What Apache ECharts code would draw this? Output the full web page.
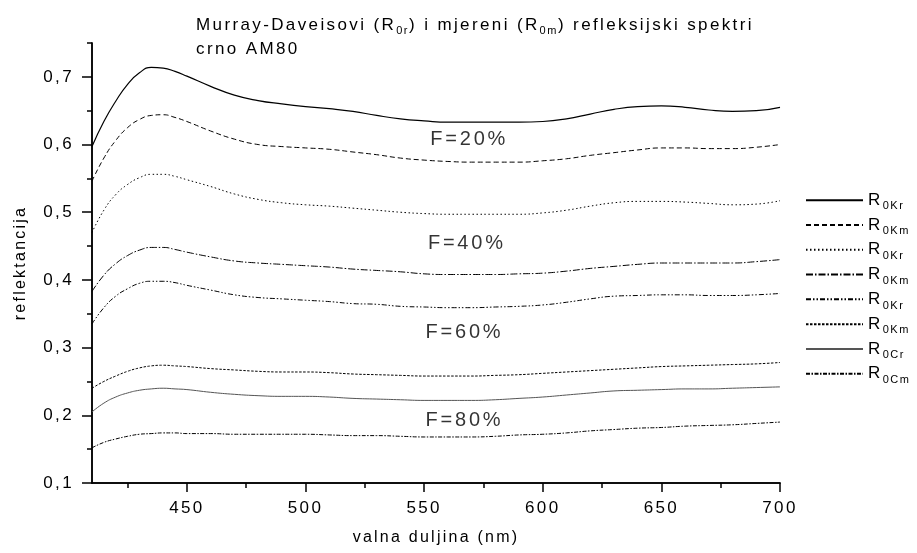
<!DOCTYPE html>
<html><head><meta charset="utf-8">
<script src="https://cdn.jsdelivr.net/npm/echarts@6/dist/echarts.min.js"></script>
<style>html,body{margin:0;padding:0;background:#fff}#c{width:917px;height:553px}</style>
</head><body><div id="c"></div>
<script>
// Text in the reference is drawn with extra tracking; emulate it on canvas (text stays real text)
(function(){
  var P = CanvasRenderingContext2D.prototype;
  function setLS(ctx){
    var m = /(\d+(?:\.\d+)?)px/.exec(ctx.font || '');
    if (m && ('letterSpacing' in ctx)) ctx.letterSpacing = (parseFloat(m[1]) * 0.14).toFixed(2) + 'px';
  }
  var ft = P.fillText, st = P.strokeText, mt = P.measureText;
  P.fillText = function(){ setLS(this); return ft.apply(this, arguments); };
  P.strokeText = function(){ setLS(this); return st.apply(this, arguments); };
  P.measureText = function(){ setLS(this); return mt.apply(this, arguments); };
})();

// ---------- data ----------
var wavelengths = [410,415,420,425,430,435,440,445,450,460,470,480,490,500,510,520,530,540,550,560,570,580,590,600,610,620,630,640,650,660,670,680,690,700];

var r0Kr_F20 = [0.597,0.634,0.664,0.689,0.706,0.714,0.713,0.708,0.701,0.686,0.673,0.665,0.660,0.656,0.653,0.649,0.643,0.638,0.635,0.633,0.633,0.633,0.633,0.634,0.638,0.645,0.652,0.656,0.657,0.655,0.651,0.649,0.650,0.655];
var r0Km_F20 = [0.546,0.580,0.606,0.625,0.637,0.643,0.644,0.640,0.634,0.620,0.608,0.600,0.597,0.595,0.593,0.589,0.585,0.580,0.577,0.575,0.574,0.574,0.574,0.576,0.579,0.584,0.588,0.592,0.595,0.595,0.594,0.594,0.596,0.600];
var r0Kr_F40 = [0.470,0.503,0.526,0.541,0.551,0.556,0.556,0.553,0.548,0.538,0.527,0.519,0.514,0.511,0.509,0.506,0.503,0.500,0.498,0.497,0.497,0.497,0.497,0.499,0.503,0.509,0.514,0.516,0.516,0.515,0.513,0.511,0.512,0.517];
var r0Km_F40 = [0.383,0.407,0.424,0.436,0.444,0.448,0.448,0.445,0.441,0.434,0.428,0.425,0.423,0.421,0.419,0.416,0.414,0.412,0.409,0.408,0.408,0.408,0.409,0.410,0.413,0.417,0.420,0.423,0.425,0.425,0.425,0.425,0.427,0.430];
var r0Kr_F60 = [0.335,0.359,0.376,0.387,0.395,0.398,0.398,0.396,0.392,0.385,0.378,0.374,0.372,0.370,0.368,0.365,0.364,0.361,0.360,0.359,0.359,0.360,0.361,0.363,0.367,0.372,0.376,0.377,0.378,0.378,0.377,0.377,0.378,0.380];
var r0Km_F60 = [0.240,0.250,0.258,0.265,0.270,0.273,0.274,0.273,0.272,0.269,0.267,0.265,0.264,0.264,0.263,0.261,0.260,0.259,0.258,0.258,0.258,0.259,0.260,0.262,0.264,0.266,0.268,0.270,0.272,0.273,0.274,0.275,0.276,0.278];
var r0Cr_F80 = [0.205,0.218,0.227,0.233,0.237,0.239,0.240,0.239,0.238,0.234,0.231,0.229,0.228,0.228,0.227,0.225,0.224,0.223,0.222,0.222,0.222,0.223,0.225,0.227,0.230,0.233,0.236,0.237,0.238,0.239,0.239,0.240,0.241,0.242];
var r0Cm_F80 = [0.152,0.160,0.165,0.169,0.172,0.173,0.174,0.174,0.173,0.173,0.172,0.172,0.172,0.172,0.171,0.170,0.170,0.169,0.168,0.168,0.168,0.169,0.171,0.172,0.174,0.177,0.179,0.181,0.182,0.184,0.185,0.186,0.188,0.190];

var seriesNames = ['R0Kr (F=20%)','R0Km (F=20%)','R0Kr (F=40%)','R0Km (F=40%)','R0Kr (F=60%)','R0Km (F=60%)','R0Cr (F=80%)','R0Cm (F=80%)'];
var legendSubs  = ['0Kr','0Km','0Kr','0Km','0Kr','0Km','0Cr','0Cm'];
var seriesValues = [r0Kr_F20, r0Km_F20, r0Kr_F40, r0Km_F40, r0Kr_F60, r0Km_F60, r0Cr_F80, r0Cm_F80];

var fLabels   = ['F=20%','F=40%','F=60%','F=80%'];
var fLabelWl  = [569, 568, 567, 567];
var fLabelR   = [0.608, 0.454, 0.323, 0.192];

var xMajorTicks = [450,500,550,600,650,700];
var xMinorTicks = [425,475,525,575,625,675];
var yMajorTicks = [0.1,0.2,0.3,0.4,0.5,0.6,0.7];
var yMinorTicks = [0.15,0.25,0.35,0.45,0.55,0.65,0.75];

// ---------- styles ----------
var lineStyles = [
  {color:'#000', width:1.2, type:'solid'},
  {color:'#000', width:1, type:[5,3]},
  {color:'#000', width:1, type:[1.5,2.5]},
  {color:'#000', width:1, type:[7,2,1.5,2]},
  {color:'#000', width:1, type:[5,2,1.5,2,1.5,2]},
  {color:'#000', width:1, type:[2.5,1.5]},
  {color:'#555', width:1, type:'solid'},
  {color:'#000', width:1, type:[4,1.5,1.5,1.5]}
];

var FONT = '"Liberation Sans", Arial, sans-serif';
var chart = echarts.init(document.getElementById('c'), null, {renderer:'canvas'});

var series = seriesValues.map(function(vals, i){
  return {
    name: seriesNames[i], type:'line', xAxisIndex:0, yAxisIndex:0,
    data: wavelengths.map(function(w, k){ return [w, vals[k]]; }),
    smooth: true, showSymbol:false, symbol:'none',
    lineStyle: lineStyles[i], itemStyle:{color: lineStyles[i].color},
    emphasis:{disabled:true}, z: 3
  };
});
series.push({
  name:'labels', type:'scatter', xAxisIndex:0, yAxisIndex:0,
  symbolSize:0, silent:true,
  data: fLabels.map(function(t,i){ return [fLabelWl[i], fLabelR[i], t]; }),
  label:{show:true, position:'inside', formatter:function(p){return p.data[2];},
         fontSize:20, color:'#000', fontFamily:FONT}
});

var gridRect = {left:92, right:137, top:43, bottom:70};
var axisLineStyle = {color:'#000', width:1.5};

chart.setOption({
  animation:false,
  backgroundColor:'#fff',
  textStyle:{fontFamily:FONT},
  title:{
    left:196, top:13, padding:0,
    text:'{t|Murray-Daveisovi (R}{s|0r}{t|) i mjereni (R}{s|0m}{t|) refleksijski spektri}\n{t|crno AM80}',
    textStyle:{ fontWeight:'normal', rich:{
      t:{fontSize:17, lineHeight:24, fontWeight:'normal', color:'#000', fontFamily:FONT},
      s:{fontSize:11, lineHeight:17, fontWeight:'normal', verticalAlign:'bottom', color:'#000', fontFamily:FONT}
    }}
  },
  legend:{
    orient:'vertical', left:805, top:190.5, padding:0,
    itemWidth:57, itemHeight:14, itemGap:2.6,
    data: seriesNames,
    selectedMode:false,
    itemStyle:{color:'rgba(0,0,0,0)', borderWidth:0, opacity:0},
    formatter:function(name){ return '{r|R}{s|' + legendSubs[seriesNames.indexOf(name)] + '}'; },
    textStyle:{ rich:{
      r:{fontSize:17, lineHeight:25, verticalAlign:'middle', color:'#000', fontFamily:FONT},
      s:{fontSize:11, lineHeight:3, verticalAlign:'bottom', color:'#000', fontFamily:FONT}
    }}
  },
  grid:[Object.assign({}, gridRect), Object.assign({}, gridRect)],
  xAxis:[
    {gridIndex:0, type:'value', min:410, max:700,
     name:'valna duljina (nm)', nameLocation:'middle', nameGap:45,
     nameTextStyle:{fontSize:16, color:'#000', fontFamily:FONT},
     axisLine:{show:true, onZero:false, lineStyle:axisLineStyle},
     axisTick:{show:true, customValues:xMajorTicks, length:9, lineStyle:axisLineStyle},
     axisLabel:{show:true, customValues:xMajorTicks, fontSize:17, color:'#000', margin:16, fontFamily:FONT},
     splitLine:{show:false}},
    {gridIndex:1, type:'value', min:410, max:700,
     axisLine:{show:true, onZero:false, lineStyle:axisLineStyle},
     axisTick:{show:true, customValues:xMinorTicks, length:5, lineStyle:axisLineStyle},
     axisLabel:{show:false}, splitLine:{show:false}}
  ],
  yAxis:[
    {gridIndex:0, type:'value', min:0.1, max:0.75,
     name:'reflektancija', nameLocation:'middle', nameGap:62,
     nameTextStyle:{fontSize:16, color:'#000', fontFamily:FONT},
     axisLine:{show:true, onZero:false, lineStyle:axisLineStyle},
     axisTick:{show:true, customValues:yMajorTicks, length:10, lineStyle:axisLineStyle},
     axisLabel:{show:true, customValues:yMajorTicks, fontSize:17, color:'#000', margin:18, fontFamily:FONT,
                formatter:function(v){ return v.toFixed(1).replace('.', ','); }},
     splitLine:{show:false}},
    {gridIndex:1, type:'value', min:0.1, max:0.75,
     axisLine:{show:true, onZero:false, lineStyle:axisLineStyle},
     axisTick:{show:true, customValues:yMinorTicks, length:5, lineStyle:axisLineStyle},
     axisLabel:{show:false}, splitLine:{show:false}}
  ],
  series: series
});
</script>
</body></html>
